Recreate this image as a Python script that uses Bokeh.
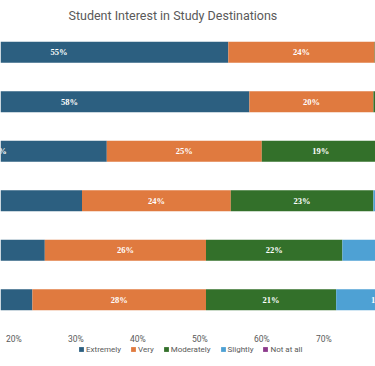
from bokeh.plotting import figure
from bokeh.layouts import column
from bokeh.models import (ColumnDataSource, FactorRange, Range1d, FixedTicker,
                          PrintfTickFormatter, LabelSet, Legend, LegendItem)
from bokeh.embed import file_html
from bokeh.resources import INLINE

# ---- data ----
categories = ["United States", "United Kingdom", "Canada", "Australia", "Germany", "Japan"]
levels = ["Extremely", "Very", "Moderately", "Slightly", "Not at all"]
extremely = [54.6, 58, 35, 31, 25, 23]
very = [23.6, 20, 25, 24, 26, 28]
moderately = [13, 14, 19, 23, 22, 21]
slightly = [6, 6, 15, 16, 19, 14]
not_at_all = [2.8, 2, 6, 6, 8, 14]
x_ticks = [0, 10, 20, 30, 40, 50, 60, 70, 80, 90, 100]
colors = ["#2c5f80", "#e07a3f", "#33702a", "#4ea1d4", "#8c3a8c"]

series = [extremely, very, moderately, slightly, not_at_all]
keys = ["s0", "s1", "s2", "s3", "s4"]

data = {"cat": categories}
cum = [0.0] * len(categories)
for k, vals in zip(keys, series):
    data[k] = vals
    data[k + "_mid"] = [c + v / 2 for c, v in zip(cum, vals)]
    data[k + "_lbl"] = ["%d%%" % int(v + 0.5) for v in vals]
    cum = [c + v for c, v in zip(cum, vals)]
source = ColumnDataSource(data)

FONT = "Roboto"

p = figure(frame_width=375, frame_height=297, output_backend="svg", toolbar_location=None,
           y_range=FactorRange(factors=list(reversed(categories))),
           x_range=Range1d(17.855, 78.34),
           min_border_left=0, min_border_right=0, min_border_top=4, min_border_bottom=0)

renderers = p.hbar_stack(keys, y="cat", height=0.42, color=colors, line_width=0,
                         source=source)

for k in keys:
    p.add_layout(LabelSet(x=k + "_mid", y="cat", text=k + "_lbl", source=source,
                          text_color="white", text_font_size="8.5px", text_font=FONT,
                          text_font_style="bold", text_align="center",
                          text_baseline="middle"))

p.title.text = "Student Interest in Study Destinations"
p.title.text_font = FONT
p.title.text_font_size = "12.5px"
p.title.text_font_style = "normal"
p.title.text_color = "#595959"
p.title.align = "left"
p.title.offset = 68

p.yaxis.visible = False
p.xaxis.ticker = FixedTicker(ticks=x_ticks)
p.xaxis.formatter = PrintfTickFormatter(format="%d%%")
p.xaxis.axis_line_color = None
p.xaxis.major_tick_line_color = None
p.xaxis.minor_tick_line_color = None
p.xaxis.major_tick_out = 0
p.xaxis.minor_tick_out = 0
p.xaxis.major_label_text_font = FONT
p.xaxis.major_label_text_font_size = "8.5px"
p.xaxis.major_label_text_color = "#595959"
p.xaxis.major_label_standoff = 9
p.xgrid.grid_line_color = None
p.ygrid.grid_line_color = None
p.outline_line_color = None

# legend strip below the chart (swatch bars sit outside the strip's visible range)
pl = figure(frame_width=375, frame_height=21, output_backend="svg", toolbar_location=None,
            title=None, x_range=Range1d(0, 1), y_range=Range1d(0, 1),
            min_border_left=0, min_border_right=0, min_border_top=0, min_border_bottom=0)
pl.axis.visible = False
pl.grid.visible = False
pl.outline_line_color = None
swatches = [pl.hbar(y=[5], left=[5], right=[6], height=1, fill_color=c, line_color=None)
            for c in colors]
legend = Legend(items=[LegendItem(label=l, renderers=[r]) for l, r in zip(levels, swatches)],
                orientation="horizontal", location=(77, 12),
                border_line_alpha=0, background_fill_alpha=0,
                glyph_width=6, glyph_height=6, label_text_font=FONT,
                label_text_font_size="8px", label_text_color="#595959",
                spacing=9, padding=1, margin=0, label_standoff=2,
                label_height=10, label_width=0)
pl.add_layout(legend, "center")

layout = column(p, pl, spacing=0)
open("out.html", "w").write(file_html(layout, INLINE))
